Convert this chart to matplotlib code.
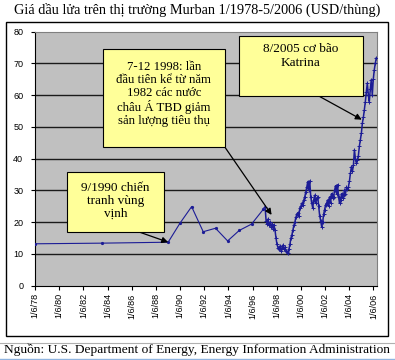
import numpy as np
import matplotlib
matplotlib.use('Agg')
from matplotlib import pyplot as plt
from matplotlib.patches import Rectangle
from matplotlib.lines import Line2D

# x positions are in tick units of the original (Excel category) axis: 0 = 1/6/78, 14 = 1/6/06
tick_labels = ['1/6/78', '1/6/80', '1/6/82', '1/6/84', '1/6/86', '1/6/88', '1/6/90',
               '1/6/92', '1/6/94', '1/6/96', '1/6/98', '1/6/00', '1/6/02', '1/6/04', '1/6/06']

# sparse early series
early_pos = [0.0, 2.76, 5.51, 6.0, 6.48, 6.96, 7.47, 7.97, 8.45, 8.96, 9.45]
early_price = [13.2, 13.4, 13.7, 19.7, 24.9, 17.0, 18.1, 14.1, 17.4, 19.4, 24.1]

# dense series from late 1997 to 5/2006
daily_start, daily_end = 9.52, 14.12
daily_price = [24.9, 20.5, 19.5, 21, 19, 20, 18.5, 19.5, 18, 19, 17.5,
               15, 13, 12, 11.5,
               12.5, 11, 12, 12.8, 11.5, 12.2, 11, 10.5, 10.2, 11.5,
               13, 15, 16, 17.5, 19, 20, 21.5, 22.5,
               23, 22, 24.5, 25, 26, 25.5, 27, 28, 29.5, 31, 32.8,
               30, 33, 28, 26, 24.5,
               27, 28.5, 26, 27.5, 28, 25, 22, 20.5,
               18.6, 20, 22.5, 24, 25.5, 26,
               27, 25, 28, 26, 29, 27.5, 28, 30, 31.5, 29,
               31.8, 28, 26, 27, 29, 27.5, 28.5, 30, 29, 31, 30.5, 31.2, 33,
               35.5, 37.5, 36, 38, 42.8, 40, 38.5, 39.6,
               41, 44, 46, 48, 51.2, 53, 55.4,
               58, 61, 63.8, 60, 58,
               62, 64.9, 60, 65, 68, 70, 71.7]

title = 'Giá dầu lửa trên thị trường Murban 1/1978-5/2006 (USD/thùng)'
source = 'Nguồn: U.S. Department of Energy, Energy Information Administration'
note_gulf = '9/1990 chiến\ntranh vùng\nvịnh'
note_asia = '7-12 1998: lần\nđầu tiên kể từ năm\n1982 các nước\nchâu Á TBD giảm\nsản lượng tiêu thụ'
note_katrina = '8/2005 cơ bão\nKatrina'

W, H = 395, 360
serif = ['Liberation Serif', 'DejaVu Serif']
sans = ['Liberation Sans', 'DejaVu Sans']


def fx(px):
    return px / W


def fy(py):
    return 1 - py / H


fig = plt.figure(figsize=(W / 100, H / 100), dpi=100)
fig.patch.set_facecolor('white')

# chart frame
fig.add_artist(Rectangle((fx(5.5), fy(336)), fx(388) - fx(5.5), fy(21.5) - fy(336),
                         transform=fig.transFigure, fill=False, edgecolor='black', lw=1))
fig.add_artist(Line2D([0, 1], [fy(343), fy(343)], transform=fig.transFigure, color='#b0b0b0', lw=0.8))
fig.add_artist(Line2D([0, 1], [fy(359), fy(359)], transform=fig.transFigure, color='#8fb4e0', lw=1))

ax = fig.add_axes([fx(35), fy(285.7), fx(376.5) - fx(35), fy(31.7) - fy(285.7)])
ax.set_facecolor('#c0c0c0')

daily_pos = np.linspace(daily_start, daily_end, len(daily_price))
ax.plot(early_pos, early_price, color='#1c1c96', lw=0.8, marker='o', ms=1.3, zorder=3)
ax.plot(daily_pos, daily_price, color='#1c1c96', lw=1.1, marker='+', ms=2.8, mew=0.7, zorder=3)

ax.set_xlim(0, 14.13)
ax.set_ylim(0, 80)
ax.set_yticks(range(0, 81, 10))
ax.set_xticks(range(len(tick_labels)))
ax.set_xticklabels(tick_labels, rotation=90, family=sans, fontsize=6.5)
for lab in ax.get_yticklabels():
    lab.set_family(sans)
    lab.set_fontsize(6.5)
ax.tick_params(axis='both', direction='out', length=3, width=0.8, color='black')
ax.tick_params(axis='y', pad=5.5)
ax.tick_params(axis='x', pad=2.5)
for y in range(10, 80, 10):
    ax.axhline(y, color='#1a1a1a', lw=1, zorder=1)
for side in ['top', 'right']:
    ax.spines[side].set_color('#808080')
    ax.spines[side].set_linewidth(0.8)
for side in ['left', 'bottom']:
    ax.spines[side].set_color('black')
    ax.spines[side].set_linewidth(0.8)

fig.text(0.5, fy(10), title, ha='center', va='center', family=serif, fontsize=10.3)
fig.text(0.5, fy(350), source, ha='center', va='center', family=serif, fontsize=9.6)

# annotation boxes: (left, top, right, bottom) in pixels, text centre, arrow start, arrow tip (data)
notes = [
    (note_gulf, (66.7, 171.7, 164, 231.7), (115.3, 201), (138.3, 231.7), (5.51, 13.7), 9.5),
    (note_asia, (102.7, 49.3, 225, 147.3), (163.8, 94), (225, 147.3), (9.79, 22.3), 9.2),
    (note_katrina, (239.3, 36, 362.7, 96), (301, 56), (320, 96.7), (13.52, 52.3), 9.5),
]
for text, (l, t, r, b), (cx, cy), (sx, sy), tip, size in notes:
    fig.add_artist(Rectangle((fx(l), fy(b)), fx(r) - fx(l), fy(t) - fy(b), transform=fig.transFigure,
                             facecolor='#ffff99', edgecolor='black', lw=0.8, zorder=5))
    fig.text(fx(cx), fy(cy), text, ha='center', va='center', family=serif, fontsize=size,
             linespacing=1.12, zorder=6)
    ax.annotate('', xy=tip, xycoords='data', xytext=(fx(sx), fy(sy)), textcoords='figure fraction',
                arrowprops=dict(arrowstyle='-|>', color='black', lw=0.9, mutation_scale=9,
                                shrinkA=0, shrinkB=0), zorder=4)

fig.savefig('out.png', dpi=100)
